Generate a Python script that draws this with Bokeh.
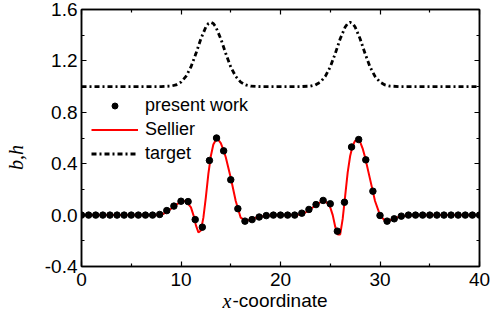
import numpy as np
from bokeh.plotting import figure
from bokeh.models import (Range1d, LinearAxis, FixedTicker, Legend, LegendItem,
                          Label, NumeralTickFormatter)
from bokeh.embed import file_html
from bokeh.resources import INLINE

# ---------------- data ----------------
# present work (57 evenly spaced nodes on 0..40)
present_x = np.linspace(0, 40, 57)
present_y = [0, 0, 0, 0, 0, 0, 0, 0, 0, 0, 0,
             0.005, 0.035, 0.07, 0.108, 0.105, -0.035, -0.094, 0.425, 0.60,
             0.50, 0.275, 0.05, -0.047, -0.035, -0.015, -0.004, 0, 0, 0,
             0, 0.015, 0.044, 0.082, 0.114, 0.088, -0.125, 0.10, 0.53, 0.588,
             0.43, 0.186, -0.003, -0.047, -0.029, -0.008,
             0, 0, 0, 0, 0, 0, 0, 0, 0, 0, 0]

# Sellier reference solution
sellier_x = [0, 7.5, 8, 8.5, 9, 9.5, 10, 10.5, 11, 11.25, 11.5, 11.75, 12,
             12.25, 12.5, 12.75, 13, 13.25, 13.5, 13.75, 14, 14.25, 14.5, 15,
             15.5, 16, 16.5, 17, 17.5, 18, 19, 20, 21, 22, 22.5, 23, 23.5, 24,
             24.25, 24.5, 24.75, 25, 25.25, 25.5, 25.75, 26, 26.25, 26.5, 26.75,
             27, 27.25, 27.5, 27.75, 28, 28.25, 28.5, 29, 29.5, 30, 30.5, 31,
             31.5, 32, 33, 34, 40]
sellier_y = [0, 0, 0.003, 0.02, 0.05, 0.08, 0.105, 0.11, 0.06, 0.0, -0.08,
             -0.135, -0.12, -0.02, 0.14, 0.32, 0.46, 0.55, 0.585, 0.585, 0.56,
             0.51, 0.45, 0.29, 0.11, -0.02, -0.045, -0.035, -0.02, -0.01,
             -0.002, 0, 0, 0.005, 0.02, 0.045, 0.075, 0.1, 0.11, 0.105, 0.09,
             0.06, 0.0, -0.09, -0.15, -0.15, -0.03, 0.15, 0.33, 0.46, 0.54,
             0.578, 0.585, 0.57, 0.52, 0.45, 0.28, 0.11, 0.0, -0.045, -0.04,
             -0.025, -0.01, -0.002, 0, 0]

# target bed
target_x = [0, 8, 9, 9.5, 10, 10.5, 11, 11.5, 12, 12.5, 12.75, 13, 13.25,
            13.5, 14, 14.5, 15, 15.5, 16, 16.5, 17, 18, 22, 23, 23.5, 24, 24.5,
            25, 25.5, 26, 26.5, 26.75, 27, 27.25, 27.5, 28, 28.5, 29, 29.5, 30,
            30.5, 31, 32, 40]
target_y = [1.0, 1.0, 1.004, 1.013, 1.035, 1.079, 1.153, 1.257, 1.372, 1.464,
            1.491, 1.5, 1.491, 1.464, 1.372, 1.257, 1.153, 1.079, 1.035, 1.013,
            1.004, 1.0, 1.0, 1.004, 1.013, 1.035, 1.079, 1.153, 1.257, 1.372,
            1.464, 1.491, 1.5, 1.491, 1.464, 1.372, 1.257, 1.153, 1.079, 1.035,
            1.013, 1.004, 1.0, 1.0]

x_ticks = [0, 10, 20, 30, 40]
x_minor = [5, 15, 25, 35]
y_ticks = [-0.4, 0.0, 0.4, 0.8, 1.2, 1.6]
y_minor = [-0.2, 0.2, 0.6, 1.0, 1.4]

FONT = "Liberation Sans"
SERIF = "Liberation Serif"

# ---------------- figure ----------------
p = figure(width=492, height=320, output_backend="svg", toolbar_location=None,
           x_range=Range1d(0, 40), y_range=Range1d(-0.4, 1.6),
           min_border_left=81, min_border_right=13, min_border_top=9,
           min_border_bottom=54)
p.xgrid.visible = False
p.ygrid.visible = False
p.outline_line_color = "black"
p.outline_line_width = 1.5
p.background_fill_color = "white"
p.border_fill_color = "white"

r_target = p.line(target_x, target_y, line_color="black", line_width=2.8,
                  line_dash="5 3 2 3")
r_sellier = p.line(sellier_x, sellier_y, line_color="#ff0000", line_width=2)
r_present = p.scatter(present_x, present_y, size=6.5, color="black")


def style_axis(ax, ticks, minor, labels=True):
    ax.ticker = FixedTicker(ticks=ticks, minor_ticks=minor)
    ax.axis_line_color = "black"
    ax.axis_line_width = 1.5
    ax.major_tick_in = 5
    ax.major_tick_out = 0
    ax.minor_tick_in = 3
    ax.minor_tick_out = 0
    ax.major_tick_line_width = 1.2
    ax.minor_tick_line_width = 1.2
    ax.major_tick_line_color = "black"
    ax.minor_tick_line_color = "black"
    ax.major_label_text_font = FONT
    ax.major_label_text_color = "black"
    if labels:
        ax.major_label_text_font_size = "19px"
        ax.major_label_standoff = 4
    else:
        ax.major_label_overrides = {t: "" for t in ticks}
        ax.major_label_standoff = 0


style_axis(p.xaxis[0], x_ticks, x_minor)
style_axis(p.yaxis[0], y_ticks, y_minor)
p.xaxis[0].major_label_standoff = 6
p.yaxis[0].formatter = NumeralTickFormatter(format="0.0")

top = LinearAxis()
right = LinearAxis()
style_axis(top, x_ticks, x_minor, labels=False)
style_axis(right, y_ticks, y_minor, labels=False)
p.add_layout(top, "above")
p.add_layout(right, "right")

legend = Legend(items=[
    LegendItem(label="present work", renderers=[r_present]),
    LegendItem(label="Sellier", renderers=[r_sellier]),
    LegendItem(label="target", renderers=[r_target]),
], location=(10, 101))
legend.background_fill_alpha = 0
legend.border_line_alpha = 0
legend.label_text_font = FONT
legend.label_text_font_size = "18px"
legend.label_text_color = "black"
legend.glyph_width = 47
legend.glyph_height = 15
legend.label_height = 24
legend.spacing = 0
legend.padding = 0
legend.margin = 0
legend.label_standoff = 7
p.add_layout(legend)

# axis titles, placed in the side panels in canvas units
p.add_layout(Label(x=15, y=157, x_units="canvas", y_units="canvas",
                   text="b,h", text_font=SERIF, text_font_style="italic",
                   text_font_size="20px", text_baseline="middle",
                   text_align="center", angle=np.pi / 2, text_color="black"),
             "left")
p.add_layout(Label(x=222, y=300, x_units="canvas", y_units="canvas", text="x",
                   text_font=SERIF, text_font_style="italic",
                   text_font_size="20px", text_baseline="middle",
                   text_color="black"), "left")
p.add_layout(Label(x=232, y=300, x_units="canvas", y_units="canvas",
                   text="-coordinate", text_font=FONT, text_font_size="19px",
                   text_baseline="middle", text_color="black"), "below")

open("out.html", "w").write(file_html(p, INLINE))
